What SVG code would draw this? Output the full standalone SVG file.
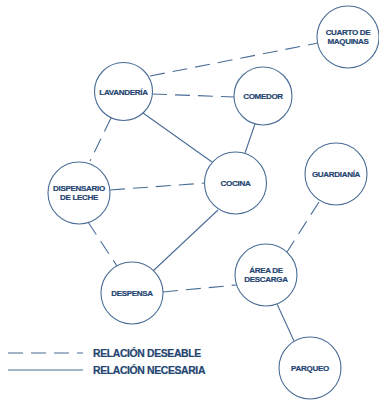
<svg xmlns="http://www.w3.org/2000/svg" width="379" height="402" viewBox="0 0 379 402">
<style>
.n circle{fill:#fff;stroke:#4a6d96;stroke-width:1.1}
.n text{font-family:"Liberation Sans",Arial,sans-serif;font-weight:bold;font-size:8px;fill:#234470;text-anchor:middle;letter-spacing:-0.3px;stroke:#234470;stroke-width:0.2px}
.c line{stroke:#4a6d96;stroke-width:1.1}
.d{stroke-dasharray:15 8}
.lg{font-family:"Liberation Sans",Arial,sans-serif;font-weight:bold;font-size:10.4px;fill:#234470;letter-spacing:-0.35px;stroke:#234470;stroke-width:0.2px}
</style>
<rect width="379" height="402" fill="#fff"/>
<g class="c" id="connectors">
<line class="d" x1="150" y1="76" x2="318" y2="43"/>
<line class="d" x1="152" y1="94" x2="235" y2="97"/>
<line class="d" x1="111" y1="118" x2="90" y2="161"/>
<line x1="143" y1="113" x2="212" y2="162"/>
<line x1="255" y1="124" x2="245" y2="153"/>
<line class="d" x1="110" y1="190" x2="205" y2="183"/>
<line class="d" x1="88" y1="222" x2="117" y2="266"/>
<line x1="218" y1="210" x2="153" y2="271"/>
<line class="d" x1="163" y1="292" x2="236" y2="285"/>
<line class="d" x1="319" y1="202" x2="287" y2="252"/>
<line x1="277" y1="304" x2="294" y2="341"/>
</g>
<g class="n" id="lavanderia"><circle cx="123.5" cy="91.5" r="29"/><text x="123.5" y="94.5">LAVANDERÍA</text></g>
<g class="n" id="comedor"><circle cx="263" cy="96" r="29"/><text x="263" y="99">COMEDOR</text></g>
<g class="n" id="cuarto"><circle cx="348" cy="37" r="31"/><text x="348" y="35">CUARTO DE</text><text x="348" y="44">MAQUINAS</text></g>
<g class="n" id="dispensario"><circle cx="79" cy="193" r="31"/><text x="79" y="191">DISPENSARIO</text><text x="79" y="200">DE LECHE</text></g>
<g class="n" id="cocina"><circle cx="235.5" cy="183" r="31"/><text x="235.5" y="186">COCINA</text></g>
<g class="n" id="guardiania"><circle cx="336" cy="174" r="31"/><text x="336" y="177">GUARDIANÍA</text></g>
<g class="n" id="despensa"><circle cx="132" cy="293" r="31"/><text x="132" y="296">DESPENSA</text></g>
<g class="n" id="area"><circle cx="266" cy="275" r="31"/><text x="266" y="273">ÁREA DE</text><text x="266" y="282">DESCARGA</text></g>
<g class="n" id="parqueo"><circle cx="310" cy="368" r="31"/><text x="310" y="371">PARQUEO</text></g>
<g id="legend">
<line class="d" x1="8" y1="353" x2="83" y2="353" stroke="#4a6d96" stroke-width="1.1"/>
<line x1="8" y1="370" x2="83" y2="370" stroke="#4a6d96" stroke-width="1.1"/>
<text class="lg" x="93" y="357">RELACIÓN DESEABLE</text>
<text class="lg" x="93" y="374">RELACIÓN NECESARIA</text>
</g>
</svg>
